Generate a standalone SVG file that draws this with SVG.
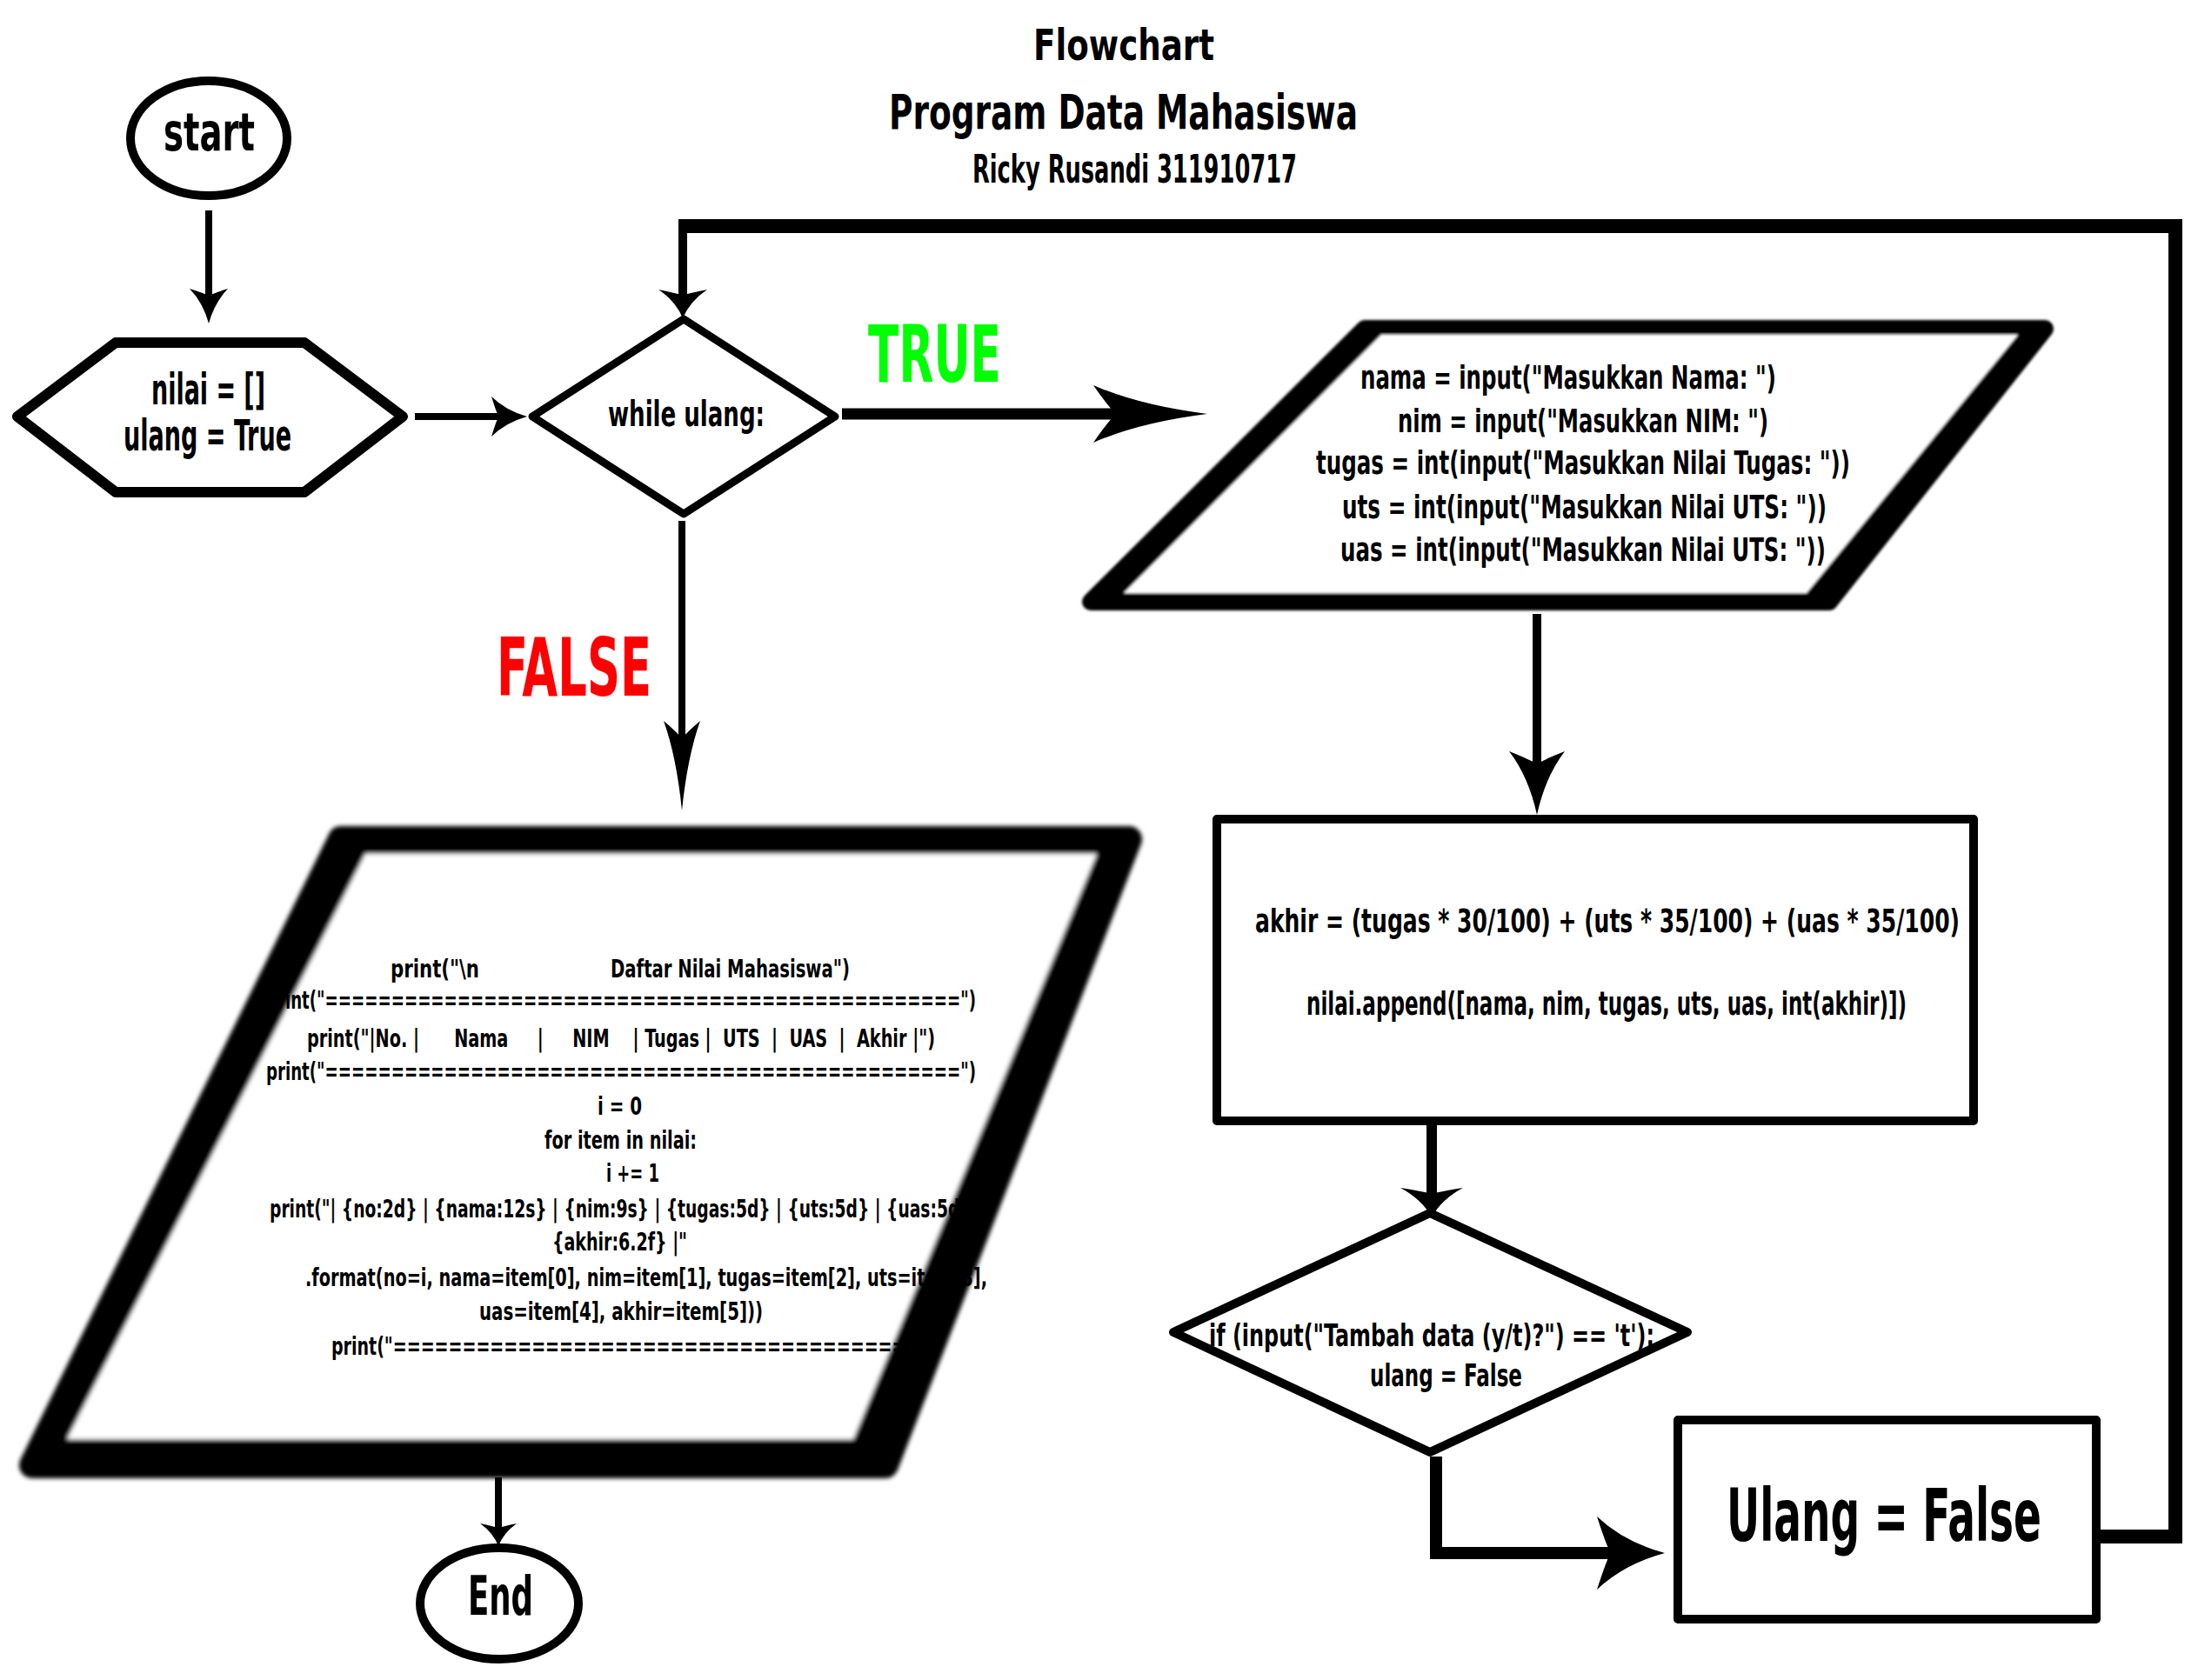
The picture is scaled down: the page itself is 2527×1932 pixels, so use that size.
<svg xmlns="http://www.w3.org/2000/svg" width="2527" height="1932" viewBox="0 0 2527 1932">
<style>
.t{font-family:"DejaVu Sans Condensed","DejaVu Sans","Liberation Sans Narrow","Liberation Sans",sans-serif;font-stretch:condensed;font-weight:bold;fill:#000}
.s{fill:#fff;stroke:#000;stroke-linejoin:round}
.c{fill:none;stroke:#000;stroke-linejoin:miter}
.ah{fill:#000}
</style>
<defs>
<path id="ah" d="M0,0 Q-0.6,-0.3 -1,-1 Q-0.87,-0.25 -0.8,0 Q-0.87,0.25 -1,1 Q-0.6,0.3 0,0 Z"/>
<filter id="soft" x="-5%" y="-5%" width="110%" height="110%"><feGaussianBlur stdDeviation="1.5"/></filter>
<filter id="soft2" x="-5%" y="-5%" width="110%" height="110%"><feGaussianBlur stdDeviation="2.5"/></filter>
</defs>
<rect width="2527" height="1932" fill="#fff"/>

<g id="title">
<text class="t" x="1188" y="69" font-size="50" textLength="208" lengthAdjust="spacingAndGlyphs">Flowchart</text>
<text class="t" x="1022" y="148" font-size="55" textLength="539" lengthAdjust="spacingAndGlyphs">Program Data Mahasiswa</text>
<text class="t" x="1118" y="210" font-size="45" textLength="373" lengthAdjust="spacingAndGlyphs">Ricky Rusandi 311910717</text>
</g>

<g id="start">
<ellipse class="s" cx="240" cy="159" rx="90" ry="66" stroke-width="10"/>
<text class="t" x="188" y="173" font-size="60" textLength="105" lengthAdjust="spacingAndGlyphs">start</text>
</g>

<g id="init">
<polygon class="s" points="20,479 133,394 350,394 463,479 350,566 133,566" stroke-width="12"/>
<text class="t" x="174" y="465" font-size="49" textLength="131" lengthAdjust="spacingAndGlyphs">nilai = []</text>
<text class="t" x="142" y="518" font-size="49" textLength="193" lengthAdjust="spacingAndGlyphs">ulang = True</text>
</g>

<g id="while">
<polygon class="s" points="612,479 786,367 960,479 786,591" stroke-width="9"/>
<text class="t" x="699" y="490" font-size="40" textLength="180" lengthAdjust="spacingAndGlyphs">while ulang:</text>
</g>

<g id="input">
<g filter="url(#soft)">
<polygon points="1569,378 2351,378 2103,692 1254,692" fill="#000" stroke="#000" stroke-width="20" stroke-linejoin="round"/>
<polygon points="1588,385 2320,385 2077,682 1292,682" fill="#fff"/>
</g>
<text class="t" x="1564" y="447" font-size="38" textLength="478" lengthAdjust="spacingAndGlyphs">nama = input("Masukkan Nama: ")</text>
<text class="t" x="1607" y="497" font-size="38" textLength="426" lengthAdjust="spacingAndGlyphs">nim = input("Masukkan NIM: ")</text>
<text class="t" x="1513" y="545" font-size="38" textLength="614" lengthAdjust="spacingAndGlyphs">tugas = int(input("Masukkan Nilai Tugas: "))</text>
<text class="t" x="1543" y="596" font-size="38" textLength="557" lengthAdjust="spacingAndGlyphs">uts = int(input("Masukkan Nilai UTS: "))</text>
<text class="t" x="1541" y="645" font-size="38" textLength="558" lengthAdjust="spacingAndGlyphs">uas = int(input("Masukkan Nilai UTS: "))</text>
</g>

<g id="process">
<rect class="s" x="1399" y="942" width="870" height="347" stroke-width="10"/>
<text class="t" x="1443" y="1072" font-size="38" textLength="810" lengthAdjust="spacingAndGlyphs">akhir = (tugas * 30/100) + (uts * 35/100) + (uas * 35/100)</text>
<text class="t" x="1502" y="1167" font-size="38" textLength="690" lengthAdjust="spacingAndGlyphs">nilai.append([nama, nim, tugas, uts, uas, int(akhir)])</text>
</g>

<g id="decision">
<polygon class="s" points="1349,1532 1644,1395 1940,1532 1644,1670" stroke-width="10"/>
<text class="t" x="1390" y="1548" font-size="36" textLength="512" lengthAdjust="spacingAndGlyphs">if (input("Tambah data (y/t)?") == 't'):</text>
<text class="t" x="1575" y="1594" font-size="36" textLength="175" lengthAdjust="spacingAndGlyphs">ulang = False</text>
</g>

<g id="ulang-false">
<rect class="s" x="1929" y="1633" width="481" height="229" stroke-width="10"/>
<text class="t" x="1985" y="1772" font-size="84" textLength="362" lengthAdjust="spacingAndGlyphs">Ulang = False</text>
</g>

<g id="output">
<g filter="url(#soft2)">
<polygon points="392,965 1298,965 1018,1685 37,1685" fill="#000" stroke="#000" stroke-width="30" stroke-linejoin="round"/>
<polygon points="420,982 1261,982 981,1655 77,1655" fill="#fff"/>
</g>
<text class="t" y="1124" font-size="28"><tspan x="449" textLength="102" lengthAdjust="spacingAndGlyphs">print("\n</tspan><tspan x="702" textLength="275" lengthAdjust="spacingAndGlyphs">Daftar Nilai Mahasiswa")</tspan></text>
<text class="t" x="306" y="1160" font-size="28" textLength="816" lengthAdjust="spacingAndGlyphs">print("================================================")</text>
<text class="t" x="353" y="1204" font-size="28" textLength="722" lengthAdjust="spacingAndGlyphs" xml:space="preserve">print("|No. |      Nama     |     NIM    | Tugas |  UTS  |  UAS  |  Akhir |")</text>
<text class="t" x="306" y="1242" font-size="28" textLength="816" lengthAdjust="spacingAndGlyphs">print("================================================")</text>
<text class="t" x="687" y="1282" font-size="28" textLength="51" lengthAdjust="spacingAndGlyphs">i = 0</text>
<text class="t" x="626" y="1321" font-size="28" textLength="175" lengthAdjust="spacingAndGlyphs">for item in nilai:</text>
<text class="t" x="697" y="1359" font-size="28" textLength="61" lengthAdjust="spacingAndGlyphs">i += 1</text>
<text class="t" x="310" y="1400" font-size="28" textLength="820" lengthAdjust="spacingAndGlyphs">print("| {no:2d} | {nama:12s} | {nim:9s} | {tugas:5d} | {uts:5d} | {uas:5d} |</text>
<text class="t" x="635" y="1438" font-size="28" textLength="155" lengthAdjust="spacingAndGlyphs">{akhir:6.2f} |"</text>
<text class="t" x="351" y="1479" font-size="28" textLength="784" lengthAdjust="spacingAndGlyphs">.format(no=i, nama=item[0], nim=item[1], tugas=item[2], uts=item[3],</text>
<text class="t" x="551" y="1518" font-size="28" textLength="326" lengthAdjust="spacingAndGlyphs">uas=item[4], akhir=item[5]))</text>
<text class="t" x="381" y="1558" font-size="28" textLength="695" lengthAdjust="spacingAndGlyphs">print("======================================")</text>
</g>

<g id="end">
<ellipse class="s" cx="574" cy="1844" rx="91" ry="64" stroke-width="10"/>
<text class="t" x="538" y="1857" font-size="62" textLength="75" lengthAdjust="spacingAndGlyphs">End</text>
</g>

<g id="connectors">
<line class="c" x1="240" y1="242" x2="240" y2="345" stroke-width="8"/>
<use class="ah" href="#ah" transform="translate(240,372) rotate(90) scale(40,22)"/>
<line class="c" x1="477" y1="479" x2="580" y2="479" stroke-width="8"/>
<use class="ah" href="#ah" transform="translate(606,479) scale(41,23)"/>
<polyline class="c" points="2415,1767 2501,1767 2501,260 780,260" stroke-width="16"/>
<line class="c" x1="785" y1="253" x2="785" y2="345" stroke-width="10"/>
<use class="ah" href="#ah" transform="translate(785,366) rotate(90) scale(33,28)"/>
<line class="c" x1="784" y1="599" x2="784" y2="860" stroke-width="8"/>
<use class="ah" href="#ah" transform="translate(784,932) rotate(90) scale(103,21)"/>
<line class="c" x1="968" y1="476" x2="1300" y2="476" stroke-width="13"/>
<use class="ah" href="#ah" transform="translate(1388,476) scale(131,33)"/>
<line class="c" x1="1767" y1="706" x2="1767" y2="890" stroke-width="10"/>
<use class="ah" href="#ah" transform="translate(1767,937) rotate(90) scale(73,32)"/>
<line class="c" x1="1646" y1="1294" x2="1646" y2="1380" stroke-width="12"/>
<use class="ah" href="#ah" transform="translate(1646,1400) rotate(90) scale(34,36)"/>
<polyline class="c" points="1651,1675 1651,1786 1860,1786" stroke-width="14"/>
<use class="ah" href="#ah" transform="translate(1914,1786) scale(78,42)"/>
<line class="c" x1="573" y1="1699" x2="573" y2="1765" stroke-width="8"/>
<use class="ah" href="#ah" transform="translate(573,1778) rotate(90) scale(26,21)"/>
<text class="t" x="998" y="439" font-size="90" style="fill:#00ff00" textLength="153" lengthAdjust="spacingAndGlyphs">TRUE</text>
<text class="t" x="571" y="800" font-size="93" style="fill:#ff0000" textLength="178" lengthAdjust="spacingAndGlyphs">FALSE</text>
</g>
</svg>
